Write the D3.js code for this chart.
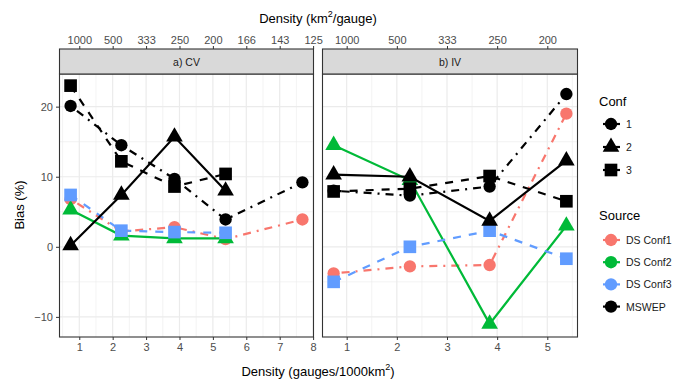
<!DOCTYPE html>
<html>
<head>
<meta charset="utf-8">
<script src="https://cdn.jsdelivr.net/npm/d3@7"></script>
<style>
body{margin:0;background:#fff;}
text{font-family:"Liberation Sans",Arial,sans-serif;}
</style>
</head>
<body>
<svg id="chart" width="676" height="381"></svg>
<script>
// density (gauges/1000km2) per sampling step
const densityCV = [0.74, 2.26, 3.85, 5.38, 7.68];
const densityIV = [0.74, 2.26, 3.85, 5.38];
const topTicksCV = [1000, 500, 333, 250, 200, 166, 143, 125];
const topTicksIV = [1000, 500, 333, 250, 200];
const confs = ['1', '2', '3'];
const sources = ['DS Conf1', 'DS Conf2', 'DS Conf3', 'MSWEP'];

// bias (%) - a) CV
const cvDS1 = [6.8, 2.2, 2.8, 1.1, 3.9];
const cvDS2 = [5.3, 1.6, 1.2, 1.2];
const cvDS3 = [7.4, 2.3, 2.1, 2.0];
const cvMSWEP1 = [20.1, 14.5, 9.7, 3.9, 9.2];
const cvMSWEP2 = [0.2, 7.4, 15.7, 8.0];
const cvMSWEP3 = [23.0, 12.2, 8.6, 10.4];

// bias (%) - b) IV
const ivDS1 = [-3.8, -2.8, -2.6, 19.0];
const ivDS2 = [14.5, 9.5, -11.0, 3.0];
const ivDS3 = [-5.0, 0.0, 2.3, -1.7];
const ivMSWEP1 = [8.0, 7.3, 8.6, 21.8];
const ivMSWEP2 = [10.3, 10.0, 3.7, 12.3];
const ivMSWEP3 = [7.9, 8.3, 10.1, 6.5];

const colour = d3.scaleOrdinal(sources, ['#F8766D', '#00BA38', '#619CFF', '#000000']);
const shape = d3.scaleOrdinal(confs, [d3.symbolCircle, d3.symbolTriangle, d3.symbolSquare]);
const shapeSize = {'1': 120, '2': 120, '3': 160};
const dash = d3.scaleOrdinal(confs, ['2,6,8,6', 'none', '8,8']);

const series = (xs, list) => list.map(([source, conf, vals]) => ({
    source, conf,
    pts: vals.map((v, i) => ({x: xs[i], y: v}))
}));

const panels = [
    {label: 'a) CV', left: 59, right: 314, dens: densityCV, top: topTicksCV, bottomTicks: d3.range(1, 9),
     data: series(densityCV, [['DS Conf1','1',cvDS1],['DS Conf2','2',cvDS2],['DS Conf3','3',cvDS3],
        ['MSWEP','1',cvMSWEP1],['MSWEP','2',cvMSWEP2],['MSWEP','3',cvMSWEP3]])},
    {label: 'b) IV', left: 322, right: 578, dens: densityIV, top: topTicksIV, bottomTicks: d3.range(1, 6),
     data: series(densityIV, [['DS Conf1','1',ivDS1],['DS Conf2','2',ivDS2],['DS Conf3','3',ivDS3],
        ['MSWEP','1',ivMSWEP1],['MSWEP','2',ivMSWEP2],['MSWEP','3',ivMSWEP3]])}
];

const svg = d3.select('#chart');
const stripTop = 49, plotTop = 74, plotBottom = 337;
const yScale = d3.scaleLinear([-12.87, 24.66], [plotBottom, plotTop]);
const yMajor = [-10, 0, 10, 20];
const yMinor = [-5, 5, 15];
const tickCol = '#4d4d4d';

panels.forEach((p, k) => {
    // x scale with 5% expansion like ggplot
    const ext = d3.extent(p.dens);
    const pad = (ext[1] - ext[0]) * 0.05;
    const x = d3.scaleLinear([ext[0] - pad, ext[1] + pad], [p.left, p.right]);
    const g = svg.append('g');
    const minorX = d3.range(0.5, ext[1] + pad, 1).filter(v => v > x.domain()[0]);

    // grid
    g.selectAll('.minx').data(minorX).join('line')
        .attr('x1', d => x(d)).attr('x2', d => x(d)).attr('y1', plotTop).attr('y2', plotBottom)
        .attr('stroke', '#ebebeb').attr('stroke-width', 0.6);
    g.selectAll('.miny').data(yMinor).join('line')
        .attr('x1', p.left).attr('x2', p.right).attr('y1', d => yScale(d)).attr('y2', d => yScale(d))
        .attr('stroke', '#ebebeb').attr('stroke-width', 0.6);
    g.selectAll('.majx').data(p.bottomTicks).join('line')
        .attr('x1', d => x(d)).attr('x2', d => x(d)).attr('y1', plotTop).attr('y2', plotBottom)
        .attr('stroke', '#ebebeb').attr('stroke-width', 1.2);
    g.selectAll('.majy').data(yMajor).join('line')
        .attr('x1', p.left).attr('x2', p.right).attr('y1', d => yScale(d)).attr('y2', d => yScale(d))
        .attr('stroke', '#ebebeb').attr('stroke-width', 1.2);

    // lines then points
    const line = d3.line().x(d => x(d.x)).y(d => yScale(d.y));
    g.selectAll('.ln').data(p.data).join('path')
        .attr('d', d => line(d.pts))
        .attr('fill', 'none')
        .attr('stroke', d => colour(d.source))
        .attr('stroke-width', 2.2)
        .attr('stroke-dasharray', d => dash(d.conf));
    p.data.forEach(s => {
        g.selectAll(null).data(s.pts).join('path')
            .attr('transform', d => `translate(${x(d.x)},${yScale(d.y)})`)
            .attr('d', d3.symbol(shape(s.conf), shapeSize[s.conf]))
            .attr('fill', colour(s.source));
    });

    // panel border + strip
    g.append('rect').attr('x', p.left + 0.5).attr('y', plotTop).attr('width', p.right - p.left - 1)
        .attr('height', plotBottom - plotTop).attr('fill', 'none').attr('stroke', '#333').attr('stroke-width', 1.1);
    g.append('rect').attr('x', p.left + 0.5).attr('y', stripTop).attr('width', p.right - p.left - 1)
        .attr('height', plotTop - stripTop).attr('fill', '#d9d9d9').attr('stroke', '#333').attr('stroke-width', 1.1);
    g.append('text').attr('x', (p.left + p.right) / 2).attr('y', 66).attr('text-anchor', 'middle')
        .attr('font-size', 10.5).attr('fill', '#1a1a1a').text(p.label);

    // bottom axis
    const xAxis = d3.axisBottom(x).tickValues(p.bottomTicks).tickSize(3).tickPadding(3).tickFormat(d3.format('d'));
    const xa = g.append('g').attr('transform', `translate(0,${plotBottom})`).call(xAxis);
    // top axis (km2/gauge = 1000 / density)
    const topAxis = d3.axisTop(x).tickValues(p.bottomTicks).tickSize(3).tickPadding(2)
        .tickFormat((d, i) => p.top[i]);
    const ta = g.append('g').attr('transform', `translate(0,${stripTop})`).call(topAxis);
    [xa, ta].forEach(a => {
        a.select('.domain').remove();
        a.selectAll('line').attr('stroke', '#333');
        a.selectAll('text').attr('fill', tickCol).attr('font-size', 11);
    });

    // y axis only on first panel
    if (k === 0) {
        const ya = g.append('g').attr('transform', `translate(${p.left},0)`)
            .call(d3.axisLeft(yScale).tickValues(yMajor).tickSize(3).tickPadding(3));
        ya.select('.domain').remove();
        ya.selectAll('line').attr('stroke', '#333');
        ya.selectAll('text').attr('fill', tickCol).attr('font-size', 11);
    }
});

// axis titles
const bt = svg.append('text').attr('x', 318).attr('y', 376).attr('text-anchor', 'middle').attr('font-size', 13).attr('fill', '#000');
bt.append('tspan').text('Density (gauges/1000km');
bt.append('tspan').text('2').attr('font-size', 9).attr('dy', -6);
bt.append('tspan').text(')').attr('dy', 6);

const tt = svg.append('text').attr('x', 318).attr('y', 23).attr('text-anchor', 'middle').attr('font-size', 13).attr('fill', '#000');
tt.append('tspan').text('Density (km');
tt.append('tspan').text('2').attr('font-size', 9).attr('dy', -6);
tt.append('tspan').text('/gauge)').attr('dy', 6);

svg.append('text').attr('transform', 'translate(24,205) rotate(-90)').attr('text-anchor', 'middle')
    .attr('font-size', 13).attr('fill', '#000').text('Bias (%)');

// legends
const legend = svg.append('g');
legend.append('text').attr('x', 599).attr('y', 106).attr('font-size', 13).text('Conf');
confs.forEach((c, i) => {
    const y = 124 + i * 23;
    legend.append('line').attr('x1', 603).attr('x2', 620).attr('y1', y).attr('y2', y)
        .attr('stroke', '#000').attr('stroke-width', 2.2);
    legend.append('path').attr('transform', `translate(611,${y})`)
        .attr('d', d3.symbol(shape(c), shapeSize[c])).attr('fill', '#000');
    legend.append('text').attr('x', 626).attr('y', y + 4).attr('font-size', 10.5).attr('fill', '#1a1a1a').text(c);
});
legend.append('text').attr('x', 599).attr('y', 220).attr('font-size', 13).text('Source');
sources.forEach((s, i) => {
    const y = 240 + i * 22.2;
    legend.append('line').attr('x1', 603).attr('x2', 620).attr('y1', y).attr('y2', y)
        .attr('stroke', colour(s)).attr('stroke-width', 2.2);
    legend.append('path').attr('transform', `translate(611,${y})`)
        .attr('d', d3.symbol(d3.symbolCircle, 120)).attr('fill', colour(s));
    legend.append('text').attr('x', 626).attr('y', y + 4).attr('font-size', 10.5).attr('fill', '#1a1a1a').text(s);
});
</script>
</body>
</html>
